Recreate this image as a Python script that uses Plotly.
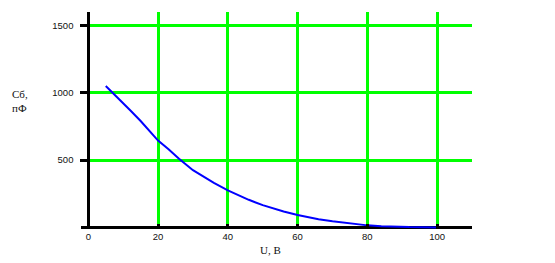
import plotly.graph_objects as go

# Data
u_values = [5, 6, 8, 10, 12, 15, 18, 20, 23, 26, 30, 33, 36, 40, 43, 46, 50, 53, 56,
            60, 63, 66, 70, 73, 76, 80, 84, 88, 92, 96, 100]
c_values = [1050, 1025, 975, 925, 870, 790, 700, 645, 580, 510, 425, 375, 330, 275, 240,
            205, 165, 140, 118, 92, 75, 60, 45, 35, 26, 15, 9, 4, 2, 1, 0]

x_ticks = [0, 20, 40, 60, 80, 100]
x_tick_labels = ["0", "20", "40", "60", "80", "100"]
y_ticks = [500, 1000, 1500]
y_tick_labels = ["500", "1000", "1500"]

W, H = 555, 263
L, R, T, B = 81, 83, 12, 34
pw, ph = W - L - R, H - T - B

x_range = [-2.1, 110.0]
y_range = [-12, 1600]
y_axis_pos = (0 - x_range[0]) / (x_range[1] - x_range[0])

fig = go.Figure()
fig.add_trace(go.Scatter(
    x=u_values, y=c_values, mode="lines",
    line=dict(color="#0000ff", width=2),
    showlegend=False, hoverinfo="skip",
))

tick_font = dict(family="Liberation Sans, Arial, sans-serif", size=9.5, color="#111111")
title_font = dict(family="Liberation Serif, Times New Roman, serif", size=11, color="#111111")

fig.update_layout(
    width=W, height=H,
    margin=dict(l=L, r=R, t=T, b=B, pad=0),
    paper_bgcolor="white", plot_bgcolor="white",
    xaxis=dict(
        range=x_range, tickmode="array", tickvals=x_ticks, ticktext=x_tick_labels,
        showgrid=True, gridcolor="#00ff00", gridwidth=3,
        zeroline=False, showline=False,
        ticks="inside", ticklen=5, tickwidth=3, tickcolor="black",
        tickfont=tick_font, fixedrange=True,
    ),
    yaxis=dict(
        range=y_range, tickmode="array", tickvals=y_ticks, ticktext=y_tick_labels,
        showgrid=True, gridcolor="#00ff00", gridwidth=3,
        zeroline=True, zerolinecolor="black", zerolinewidth=3,
        showline=True, linecolor="black", linewidth=3,
        anchor="free", position=y_axis_pos,
        ticks="outside", ticklen=7, tickwidth=3, tickcolor="black",
        ticklabelstandoff=5,
        tickfont=tick_font, fixedrange=True,
    ),
    annotations=[
        dict(text="Cб,<br>пФ", xref="paper", yref="paper",
             x=(10 - L) / pw, y=(T + ph - 101) / ph, xanchor="left", yanchor="middle",
             align="left", showarrow=False, font=title_font),
        dict(text="U, B", xref="paper", yref="paper",
             x=(270 - L) / pw, y=(T + ph - 250) / ph, xanchor="center", yanchor="middle",
             showarrow=False, font=title_font),
    ],
)

fig.write_html("out.html")
